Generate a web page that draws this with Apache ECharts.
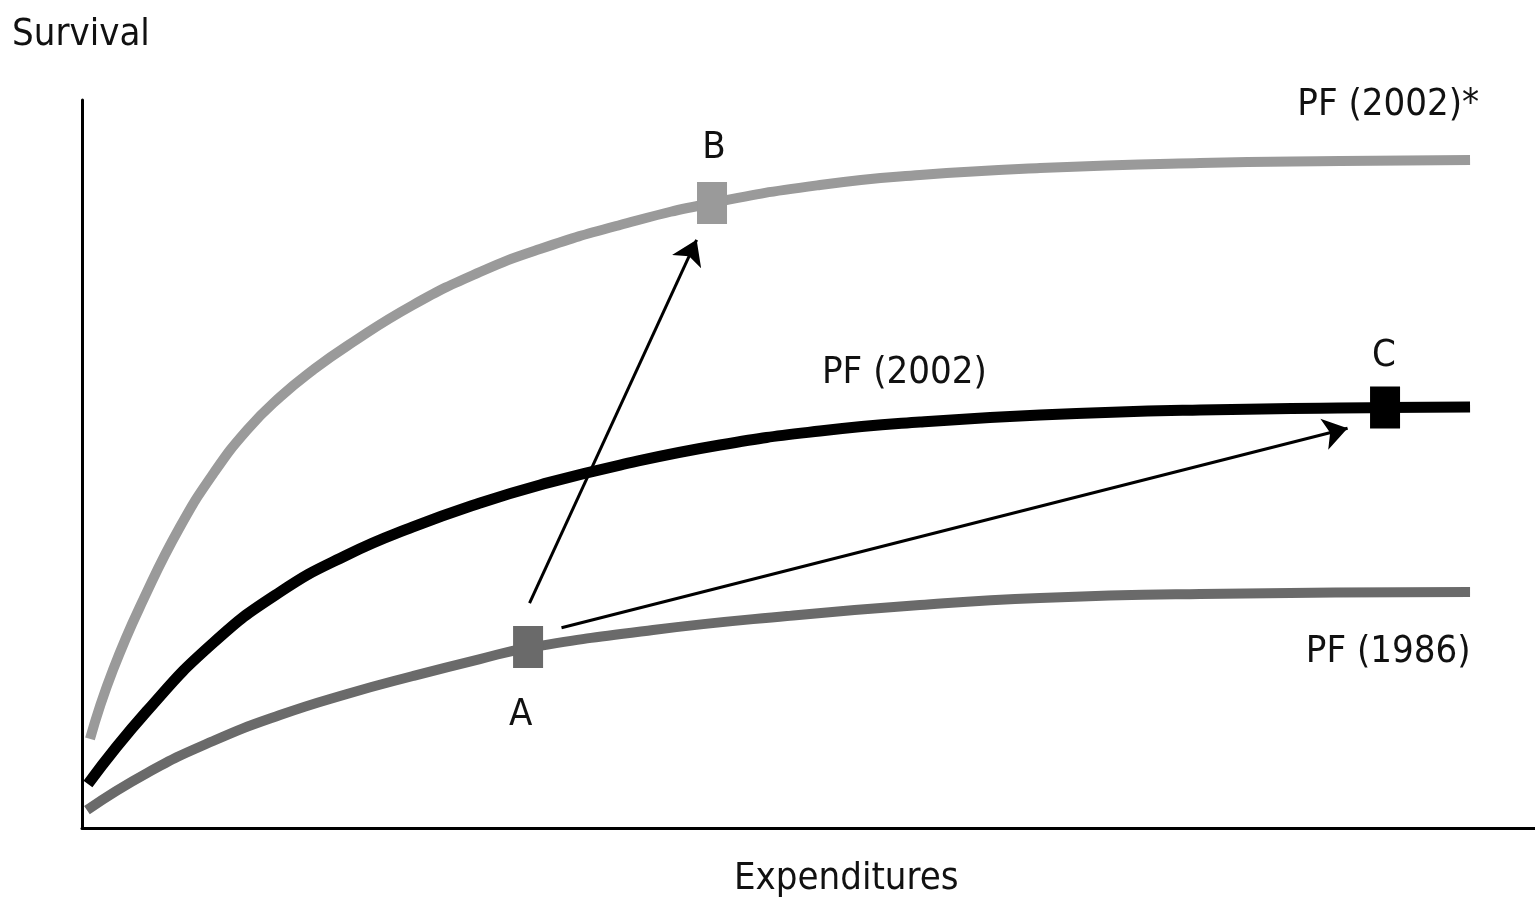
<!DOCTYPE html>
<html>
<head>
<meta charset="utf-8">
<script src="https://cdn.jsdelivr.net/npm/echarts@6/dist/echarts.min.js"></script>
<style>
  html, body { margin: 0; padding: 0; background: #fff; }
  #main { width: 1535px; height: 905px; }
</style>
</head>
<body>
<div id="main"></div>
<script>
// curves: [expenditures, survival] in chart units (0-100)
const pf2002star = [[0.55, 12.23], [2.13, 21.7], [4.47, 32.42], [6.74, 41.35], [9.02, 48.63], [11.36, 54.67],
  [13.63, 59.2], [15.9, 62.91], [18.24, 66.21], [22.78, 71.84], [27.39, 76.37], [31.52, 79.53], [37.03, 82.83],
  [43.36, 85.85], [50.79, 88.32], [57.67, 89.7], [65.93, 90.66], [76.94, 91.35], [86.58, 91.62], [95.53, 91.76]]
const pf2002 = [[0.41, 6.04], [4.47, 16.07], [9.02, 25.41], [13.63, 32.42], [18.24, 37.5], [22.78, 41.35],
  [27.39, 44.64], [31.52, 47.12], [37.03, 49.86], [43.91, 52.61], [50.79, 54.53], [57.67, 55.77], [65.93, 56.73],
  [76.94, 57.42], [89.68, 57.76], [95.53, 57.83]]
const pf1986 = [[0.34, 2.47], [4.47, 7.55], [9.02, 11.95], [13.63, 15.52], [18.24, 18.41], [22.78, 20.88],
  [27.39, 23.21], [30.7, 24.73], [39.3, 27.2], [48.52, 29.12], [57.67, 30.63], [65.93, 31.59], [76.94, 32.14],
  [95.53, 32.42]]

// points A, B, C
const pointA = [30.7, 24.85]
const pointB = [43.36, 85.85]
const pointC = [89.68, 57.76]

// arrows A->B, A->C
const arrows = [
  [[30.8, 30.9], [42.3, 80.8]],
  [[33.0, 27.5], [87.1, 54.9]]
]

// text labels
const labels = [
  { name: 'PF (2002)*', value: [89.9, 99.3] },
  { name: 'PF (2002)', value: [56.6, 62.5] },
  { name: 'PF (1986)', value: [89.9, 24.2] },
  { name: 'A', value: [30.2, 15.5] },
  { name: 'B', value: [43.5, 93.4] },
  { name: 'C', value: [89.6, 64.8] }
]

const font = "'Liberation Sans Narrow', 'DejaVu Sans Condensed', 'Liberation Sans', sans-serif"

const chart = echarts.init(document.getElementById('main'))

function curve(name, data, color, width) {
  return {
    name: name,
    type: 'line',
    data: data,
    smooth: 0.5,
    showSymbol: false,
    lineStyle: { color: color, width: width, cap: 'butt' },
    silent: true,
    z: 2
  }
}

function marker(pt, color) {
  return {
    type: 'scatter',
    data: [pt],
    symbol: 'rect',
    symbolSize: [30, 42],
    itemStyle: { color: color, opacity: 1 },
    silent: true,
    z: 4
  }
}

chart.setOption({
  animation: false,
  grid: { left: 82, right: 0, top: 100, bottom: 77 },
  xAxis: {
    type: 'value', min: 0, max: 100,
    axisLine: { show: true, lineStyle: { color: '#000', width: 3 } },
    axisTick: { show: false }, axisLabel: { show: false }, splitLine: { show: false }
  },
  yAxis: {
    type: 'value', min: 0, max: 100,
    axisLine: { show: true, lineStyle: { color: '#000', width: 3 } },
    axisTick: { show: false }, axisLabel: { show: false }, splitLine: { show: false }
  },
  graphic: [
    { type: 'text', left: 12, top: 16, style: { text: 'Survival', font: '38px ' + font, fill: '#111' } },
    { type: 'text', left: 734, top: 860, style: { text: 'Expenditures', font: '38px ' + font, fill: '#111' } }
  ],
  series: [
    curve('PF (2002)*', pf2002star, '#9a9a9a', 10),
    curve('PF (1986)', pf1986, '#6a6a6a', 10),
    curve('PF (2002)', pf2002, '#000', 11),
    {
      type: 'lines',
      coordinateSystem: 'cartesian2d',
      data: arrows.map(a => ({ coords: a })),
      symbol: ['none', 'arrow'],
      symbolSize: [0, 24],
      lineStyle: { color: '#000', width: 3, opacity: 1 },
      silent: true,
      z: 5
    },
    marker(pointA, '#6a6a6a'),
    marker(pointB, '#9a9a9a'),
    marker(pointC, '#000'),
    {
      type: 'scatter',
      data: labels,
      symbolSize: 0,
      clip: false,
      silent: true,
      itemStyle: { opacity: 1 },
      label: {
        show: true, position: 'inside',
        formatter: p => p.name,
        fontFamily: font, fontSize: 38, color: '#111'
      },
      z: 6
    }
  ]
})
</script>
</body>
</html>
